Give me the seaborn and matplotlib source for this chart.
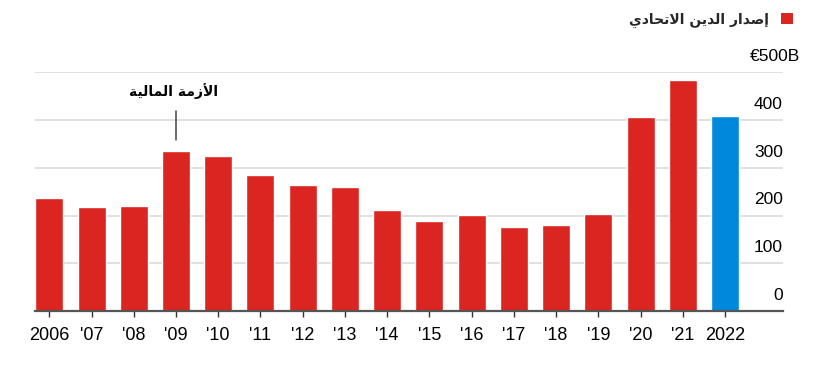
import numpy as np
import pandas as pd
import matplotlib
matplotlib.use("Agg")
import matplotlib.pyplot as plt
import seaborn as sns
from matplotlib.patches import Patch

# --------------------------
# Data
# --------------------------
years = [str(y) for y in range(2006, 2023)]
year_labels = ["2006", "'07", "'08", "'09", "'10", "'11", "'12", "'13", "'14",
               "'15", "'16", "'17", "'18", "'19", "'20", "'21", "2022"]
issuance = [236, 217, 220, 335, 324, 285, 264, 259, 211,
            188, 201, 175, 180, 204, 407, 483, 409]
ytick_vals = [0, 100, 200, 300, 400, 500]
ytick_labels = ["0", "100", "200", "300", "400", "€500B"]

legend_label = "إصدار الدين الاتحادي"
crisis_label = "الأزمة المالية"
crisis_year = "2009"

RED = "#DA2520"
BLUE = "#0088DD"
bar_colors = [RED] * (len(years) - 1) + [BLUE]

# --------------------------
# Minimal Arabic shaping (matplotlib has no complex text layout)
# forms: isolated, final, initial, medial
# --------------------------
FORMS = {
    "\u0627": ("\uFE8D", "\uFE8E", None, None),
    "\u0623": ("\uFE83", "\uFE84", None, None),
    "\u0625": ("\uFE87", "\uFE88", None, None),
    "\u0644": ("\uFEDD", "\uFEDE", "\uFEDF", "\uFEE0"),
    "\u0632": ("\uFEAF", "\uFEB0", None, None),
    "\u0645": ("\uFEE1", "\uFEE2", "\uFEE3", "\uFEE4"),
    "\u0629": ("\uFE93", "\uFE94", None, None),
    "\u064A": ("\uFEF1", "\uFEF2", "\uFEF3", "\uFEF4"),
    "\u0635": ("\uFEB9", "\uFEBA", "\uFEBB", "\uFEBC"),
    "\u062F": ("\uFEA9", "\uFEAA", None, None),
    "\u0631": ("\uFEAD", "\uFEAE", None, None),
    "\u0646": ("\uFEE5", "\uFEE6", "\uFEE7", "\uFEE8"),
    "\u062A": ("\uFE95", "\uFE96", "\uFE97", "\uFE98"),
    "\u062D": ("\uFEA1", "\uFEA2", "\uFEA3", "\uFEA4"),
}
LAM_ALEF = {
    "\u0627": ("\uFEFB", "\uFEFC", None, None),
    "\u0623": ("\uFEF7", "\uFEF8", None, None),
    "\u0625": ("\uFEF9", "\uFEFA", None, None),
}


def shape_arabic(text):
    tokens = []
    i = 0
    while i < len(text):
        c = text[i]
        if c == "\u0644" and i + 1 < len(text) and text[i + 1] in LAM_ALEF:
            tokens.append(LAM_ALEF[text[i + 1]])
            i += 2
            continue
        tokens.append(FORMS.get(c, c))
        i += 1
    out = []
    for k, t in enumerate(tokens):
        if isinstance(t, str):
            out.append(t)
            continue
        prev = tokens[k - 1] if k > 0 else None
        nxt = tokens[k + 1] if k + 1 < len(tokens) else None
        join_prev = isinstance(prev, tuple) and prev[2] is not None
        join_next = t[2] is not None and isinstance(nxt, tuple)
        if join_prev and join_next:
            out.append(t[3])
        elif join_prev:
            out.append(t[1])
        elif join_next:
            out.append(t[2])
        else:
            out.append(t[0])
    # right-to-left: reverse for left-to-right drawing
    return "".join(out)[::-1]


# --------------------------
# Plot
# --------------------------
sns.set_theme(style="white")
plt.rcParams["font.family"] = ["Liberation Sans", "DejaVu Sans"]

df = pd.DataFrame({"year": years, "value": issuance})

fig = plt.figure(figsize=(8.24, 3.8), dpi=100)
ax = fig.add_axes([0.0421, 0.1816, 0.9081, 0.628])

# light gridlines first so bars sit on top
for v in ytick_vals[1:]:
    ax.axhline(v, color="#dddddd", lw=1.3, zorder=0)

sns.barplot(data=df, x="year", y="value", hue="year", palette=bar_colors,
            width=0.663, legend=False, ax=ax, zorder=2, saturation=1)

ax.set_xlim(-0.346, 17.373)
ax.set_ylim(0, 500)
ax.set_xlabel("")
ax.set_ylabel("")
ax.set_xticks(range(len(years)))
ax.set_xticklabels(year_labels, fontsize=13, color="black")
ax.set_yticks([])

for s in ["top", "right", "left"]:
    ax.spines[s].set_visible(False)
ax.spines["bottom"].set_color("#555555")
ax.spines["bottom"].set_linewidth(1.6)
ax.spines["bottom"].set_zorder(3)
ax.tick_params(axis="x", bottom=True, length=4.5, width=1, color="#333333", pad=7)

# y labels sit inside the plot, just above each gridline
for v, lab in zip(ytick_vals, ytick_labels):
    xpos = 1.0227 if lab.startswith("€") else 1.0
    ax.annotate(lab, xy=(xpos, v), xycoords=("axes fraction", "data"),
                xytext=(0, 8), textcoords="offset points",
                ha="right", va="baseline", fontsize=12.5, color="black",
                annotation_clip=False)

# crisis annotation
xi = years.index(crisis_year)
ax.plot([xi, xi], [358, 420], color="#444444", lw=1.1, zorder=3)
ax.text(xi - 0.05, 445, shape_arabic(crisis_label), ha="center", va="bottom",
        fontsize=10, fontweight="bold", family="DejaVu Sans", color="black")

# legend (marker on the right of the text)
handle = Patch(facecolor=RED, edgecolor="none")
leg = fig.legend([handle], [shape_arabic(legend_label)], loc="center right",
                 bbox_to_anchor=(0.9624, 0.947), frameon=False, markerfirst=False,
                 borderaxespad=0, borderpad=0,
                 handlelength=0.85, handleheight=0.85, handletextpad=0.9,
                 prop={"family": "DejaVu Sans", "weight": "bold", "size": 10})

fig.savefig("out.png", dpi=100)
